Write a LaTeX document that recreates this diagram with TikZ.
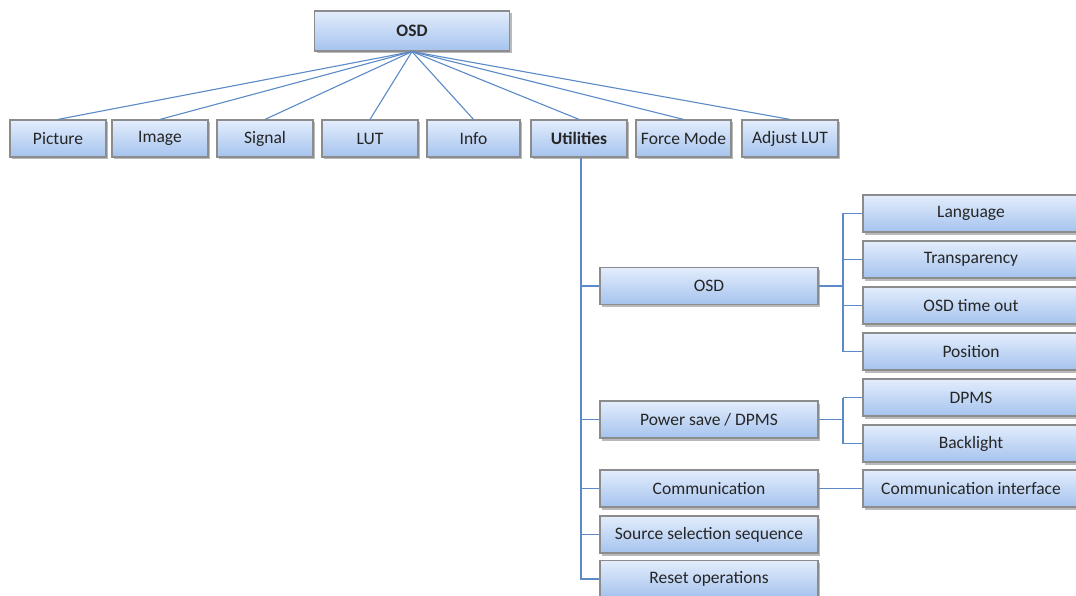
\documentclass[tikz,border=0pt]{standalone}
\usepackage{fontspec}
\setmainfont{Carlito}
\usetikzlibrary{shadows}
\definecolor{boxtop}{HTML}{E3EDFC}
\definecolor{boxbot}{HTML}{A5C3EE}
\definecolor{boxline}{HTML}{8C8C8C}
\definecolor{conn}{HTML}{5B8AC6}
\definecolor{txt}{HTML}{262626}
\newcommand{\bxfont}{\fontsize{17.5}{20}\selectfont}
\tikzset{
  bx/.style={draw=boxline, line width=1.2pt, top color=boxtop, bottom color=boxbot,
    drop shadow={shadow xshift=2pt, shadow yshift=-2.5pt, fill=black!45, opacity=0.6},
    minimum height=37pt, inner sep=0pt, text=txt, font=\bxfont},
  rowbox/.style={bx, minimum width=96pt},
  midbox/.style={bx, minimum width=218pt},
  rbox/.style={bx, minimum width=216pt},
  cn/.style={draw=conn, line width=1.1pt}
}
\begin{document}
\begin{tikzpicture}[x=1pt,y=-1pt]
\useasboundingbox (0,0) rectangle (1076,596);
% root
\node[bx, minimum width=195pt, minimum height=40pt, font=\bxfont\bfseries] (root) at (412,31) {OSD};
% row 1
\node[rowbox] (pic) at (58,138.5) {Picture};
\node[rowbox] (img) at (160,138.5) {Image};
\node[rowbox] (sig) at (265,138.5) {Signal};
\node[rowbox] (lut) at (370,138.5) {LUT};
\node[rowbox, minimum width=93pt] (info) at (473.5,138.5) {Info};
\node[rowbox, font=\bxfont\bfseries] (util) at (579,138.5) {Utilities};
\node[rowbox, minimum width=95pt] (force) at (683.5,138.5) {Force Mode};
\node[rowbox] (alut) at (790,138.5) {Adjust LUT};
% level 2
\node[midbox] (osd2) at (709,286) {OSD};
\node[midbox] (pwr) at (709,419.5) {Power save / DPMS};
\node[midbox] (com) at (709,488.5) {Communication};
\node[midbox] (src) at (709,534.5) {Source selection sequence};
\node[midbox] (rst) at (709,579) {Reset operations};
% right column
\node[rbox] (lang) at (971,213.5) {Language};
\node[rbox] (trans) at (971,259.5) {Transparency};
\node[rbox] (tout) at (971,305.5) {OSD time out};
\node[rbox] (posn) at (971,351.5) {Position};
\node[rbox] (dpms) at (971,397.5) {DPMS};
\node[rbox] (back) at (971,443.5) {Backlight};
\node[rbox] (cif) at (971,488.5) {Communication interface};
% connectors from root
\foreach \n in {pic,img,sig,lut,info,util,force,alut}
  \draw[cn] (root.south) -- (\n.north);
% utilities trunk
\coordinate (tx) at (581,0);
\draw[cn] (util.south -| tx) |- (rst.west);
\foreach \n in {osd2,pwr,com,src}
  \draw[cn] (\n.west -| tx) -- (\n.west);
% OSD branch
\coordinate (b1) at (843,286);
\draw[cn] (osd2.east) -- (b1);
\draw[cn] (b1 |- lang.west) -- (b1 |- posn.west);
\foreach \n in {lang,trans,tout,posn}
  \draw[cn] (b1 |- \n.west) -- (\n.west);
% Power branch
\coordinate (b2) at (843,419.5);
\draw[cn] (pwr.east) -- (b2);
\draw[cn] (b2 |- dpms.west) -- (b2 |- back.west);
\foreach \n in {dpms,back}
  \draw[cn] (b2 |- \n.west) -- (\n.west);
% Communication
\draw[cn] (com.east) -- (cif.west);
\end{tikzpicture}
\end{document}
